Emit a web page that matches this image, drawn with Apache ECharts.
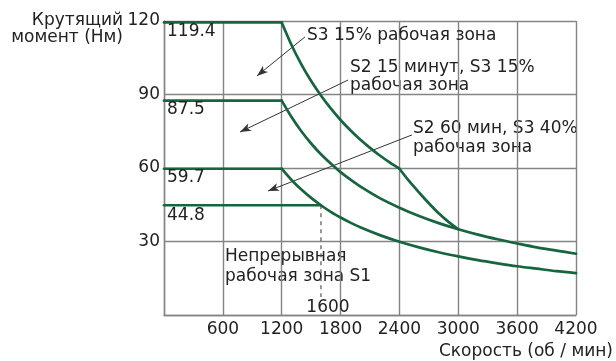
<!DOCTYPE html>
<html>
<head>
<meta charset="utf-8">
<script src="https://cdn.jsdelivr.net/npm/echarts@6/dist/echarts.min.js"></script>
<style>html,body{margin:0;padding:0;background:#fff;}#c{width:616px;height:361px;}</style>
</head>
<body>
<div id="c"></div>
<script>
// ---- data ----
const xTicks = [0, 600, 1200, 1800, 2400, 3000, 3600, 4200];
const yTicks = [0, 30, 60, 90, 120];
// S3 15% zone: flat part, constant-power part, steeper tail to the join at 3000
const s3_15_flat = [[0,119.4],[1200,119.4]];
const s3_15_curve = [[1200,119.4],[1300,110.2],[1400,102.3],[1500,95.5],[1600,89.6],[1700,84.3],[1800,79.6],[1900,75.4],[2000,71.6],[2100,68.2],[2200,65.1],[2300,62.3],[2400,59.7]];
const s3_15_tail = [[2400,59.7],[2500,54.6],[2600,50.0],[2700,45.6],[2800,41.5],[2900,38.0],[3000,35.0]];
// S2 15 min, S3 15% zone
const s2_15_flat = [[0,87.5],[1200,87.5]];
const s2_15_curve = [[1200,87.5],[1300,80.8],[1400,75.0],[1500,70.0],[1600,65.6],[1700,61.8],[1800,58.3],[1900,55.3],[2000,52.5],[2200,47.7],[2400,43.8],[2600,40.4],[2800,37.5],[3000,35.0],[3200,32.8],[3400,30.9],[3600,29.2],[3800,27.6],[4000,26.3],[4200,25.0]];
// S2 60 min, S3 40% zone
const s2_60_flat = [[0,59.7],[1200,59.7]];
const s2_60_curve = [[1200,59.7],[1300,55.1],[1400,51.2],[1500,47.8],[1600,44.8],[1700,42.1],[1800,39.8],[1900,37.7],[2000,35.8],[2200,32.6],[2400,29.9],[2600,27.6],[2800,25.6],[3000,23.9],[3200,22.4],[3400,21.1],[3600,19.9],[3800,18.9],[4000,17.9],[4200,17.1]];
// S1 continuous zone
const s1 = [[0,44.8],[1600,44.8]];
const s1Drop = [[1600,44.8],[1600,7.3]];
const arrows = [
  [[1437,113.5],[948,97.6]],
  [[1876,95.9],[775,74.7]],
  [[2528,73.5],[1060,50.6]]
];

const GREEN = '#17653f';
const GRID = '#848484';
const TXT = '#222';
const FONT = 'DejaVu Sans';

const chart = echarts.init(document.getElementById('c'));
function curve(data, smooth){
  return {type:'line', data:data, showSymbol:false, symbol:'none', smooth:smooth?0.3:false,
    lineStyle:{color:GREEN, width:2.7, cap:'round', join:'round'}, z:5, animation:false};
}
const txt = (t, x, y, align) => ({type:'text', style:{text:t, x:x, y:y, textAlign:align||'left', textVerticalAlign:'middle', fill:TXT, font:'17px "'+FONT+'"'}, z:20});

chart.setOption({
  animation:false,
  backgroundColor:'#fff',
  grid:{left:164, right:40, top:21, bottom:46, containLabel:false, outerBoundsMode:'none'},
  xAxis:{type:'value', min:xTicks[0], max:xTicks[xTicks.length-1], interval:600,
    axisLine:{show:true, lineStyle:{color:GRID, width:1.4}}, axisTick:{show:false},
    splitLine:{show:true, lineStyle:{color:GRID, width:1.4}},
    axisLabel:{color:TXT, fontFamily:FONT, fontSize:17, margin:6, showMinLabel:false,
      formatter:v => v===0 ? '' : String(v)}},
  yAxis:{type:'value', min:yTicks[0], max:yTicks[yTicks.length-1], interval:30,
    axisLine:{show:true, lineStyle:{color:GRID, width:1.4}}, axisTick:{show:false},
    splitLine:{show:true, lineStyle:{color:GRID, width:1.4}},
    axisLabel:{color:TXT, fontFamily:FONT, fontSize:17, margin:4, showMinLabel:false,
      formatter:v => v===0 ? '' : String(v)}},
  series:[
    curve(s3_15_flat), curve(s3_15_curve, true), curve(s3_15_tail, true),
    curve(s2_15_flat), curve(s2_15_curve, true),
    curve(s2_60_flat), curve(s2_60_curve, true),
    curve(s1),
    {type:'line', data:s1Drop, showSymbol:false, symbol:'none',
      lineStyle:{color:'#555', width:1.2, type:[4,4]}, z:4},
    {type:'line', data:[], markLine:{silent:true, symbol:['none','arrow'], symbolSize:[6,11],
      label:{show:false}, lineStyle:{color:'#333', width:1, type:'solid'},
      data: arrows.map(a => [{coord:a[0]},{coord:a[1]}])}}
  ],
  graphic:[
    {type:'text', style:{text:'Крутящий\nмомент (Нм)', x:123, y:12, textAlign:'right', textVerticalAlign:'top', lineHeight:17, fill:TXT, font:'17px "'+FONT+'"'}},
    txt('119.4', 167, 32),
    txt('87.5', 167, 110),
    txt('59.7', 167, 178),
    txt('44.8', 167, 216),
    txt('S3 15% рабочая зона', 307, 36),
    {type:'text', style:{text:'S2 15 минут, S3 15%\nрабочая зона', x:350, y:59, textAlign:'left', textVerticalAlign:'top', lineHeight:18, fill:TXT, font:'17px "'+FONT+'"'}},
    {type:'text', style:{text:'S2 60 мин, S3 40%\nрабочая зона', x:413, y:119, textAlign:'left', textVerticalAlign:'top', lineHeight:19, fill:TXT, font:'17px "'+FONT+'"'}},
    {type:'text', style:{text:'Непрерывная\nрабочая зона S1', x:225, y:247, textAlign:'left', textVerticalAlign:'top', lineHeight:20, fill:TXT, font:'17px "'+FONT+'"'}},
    txt('1600', 328, 308, 'center'),
    txt('Скорость (об / мин)', 613, 352, 'right')
  ]
});
</script>
</body>
</html>
